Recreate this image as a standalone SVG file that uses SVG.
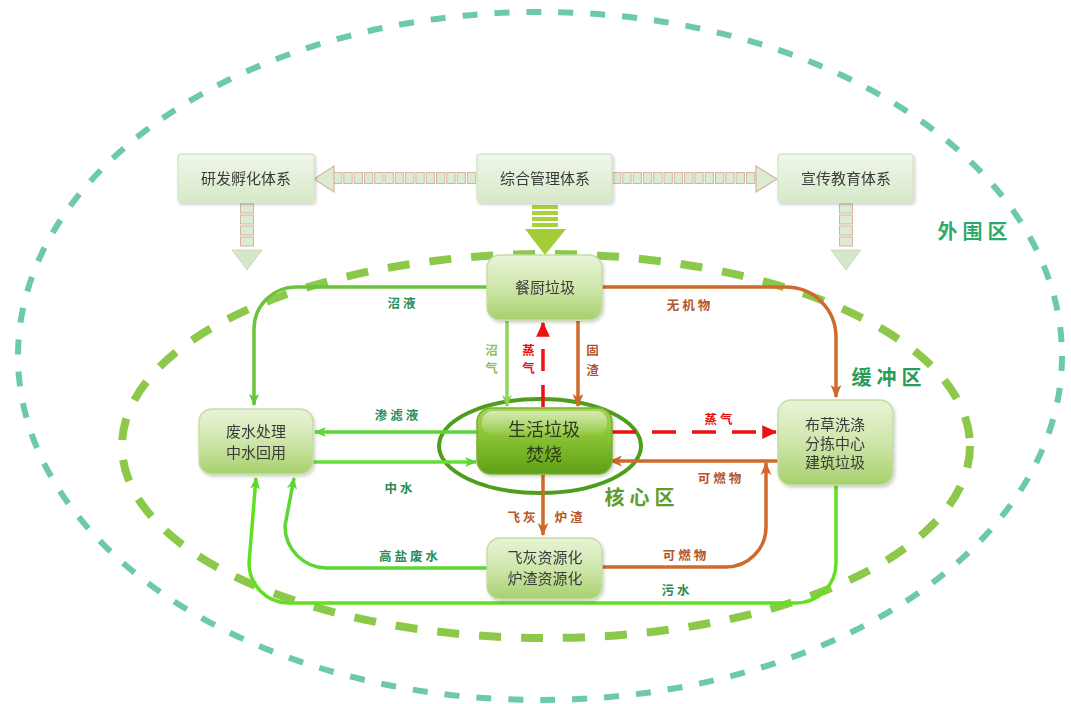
<svg xmlns="http://www.w3.org/2000/svg" width="1071" height="704" viewBox="0 0 1071 704">
<style>
text{font-family:"Noto Sans CJK SC","Liberation Sans",sans-serif;}
.nt{font-size:15px;fill:#3a3a3a;text-anchor:middle;}
.tt{font-size:15px;fill:#3a3a3a;text-anchor:middle;}
.el{font-size:12.5px;font-weight:bold;letter-spacing:3px;text-anchor:middle;}
.g{fill:#2a8c58;}
.o{fill:#b4562a;}
.r{fill:#e81010;}
.lg{fill:#8cc060;}
.zone{font-size:20px;font-weight:bold;letter-spacing:5px;text-anchor:middle;}
.c{fill:none;stroke-width:3.5;}
.top{fill:url(#gTop);stroke:#d6e6cc;stroke-width:1.5;}
.lite{fill:url(#gLite);stroke:#c4dea4;stroke-width:1.5;}
.sq{fill:#dcecd2;stroke:#d8b2a2;stroke-width:1;}
.core{font-size:18px;fill:#2e3a1e;text-anchor:middle;}
</style>
<defs>
<linearGradient id="gTop" x1="0" y1="0" x2="0" y2="1"><stop offset="0" stop-color="#f0f7ea"/><stop offset="1" stop-color="#d6e9c8"/></linearGradient>
<linearGradient id="gLite" x1="0" y1="0" x2="0" y2="1"><stop offset="0" stop-color="#e8f4d8"/><stop offset="0.5" stop-color="#cfe6ab"/><stop offset="1" stop-color="#a6d06c"/></linearGradient>
<linearGradient id="gCore" x1="0" y1="0" x2="0" y2="1"><stop offset="0" stop-color="#a8d458"/><stop offset="0.45" stop-color="#88c232"/><stop offset="1" stop-color="#5f9f18"/></linearGradient>
<linearGradient id="gGloss" x1="0" y1="0" x2="0" y2="1"><stop offset="0" stop-color="#ffffff" stop-opacity="0.55"/><stop offset="1" stop-color="#ffffff" stop-opacity="0.05"/></linearGradient>
<filter id="sh" x="-10%" y="-10%" width="130%" height="130%"><feDropShadow dx="1.5" dy="2" stdDeviation="1.5" flood-color="#000" flood-opacity="0.18"/></filter>
<pattern id="ph1" patternUnits="userSpaceOnUse" x="333" y="172" width="10.3" height="13"><rect x="0.5" y="0.5" width="8.3" height="11" class="sq"/></pattern>
<pattern id="ph2" patternUnits="userSpaceOnUse" x="612" y="172" width="10.3" height="13"><rect x="0.5" y="0.5" width="8.3" height="11" class="sq"/></pattern>
<marker id="aG" viewBox="0 0 12 12" refX="11" refY="6" markerWidth="12" markerHeight="12" markerUnits="userSpaceOnUse" orient="auto"><path d="M0,1 L12,6 L0,11 L3,6 z" fill="#66c23a"/></marker>
<marker id="aLG" viewBox="0 0 12 12" refX="11" refY="6" markerWidth="12" markerHeight="12" markerUnits="userSpaceOnUse" orient="auto"><path d="M0,1 L12,6 L0,11 L3,6 z" fill="#8fd25a"/></marker>
<marker id="aBG" viewBox="0 0 12 12" refX="11" refY="6" markerWidth="12" markerHeight="12" markerUnits="userSpaceOnUse" orient="auto"><path d="M0,1 L12,6 L0,11 L3,6 z" fill="#5cd632"/></marker>
<marker id="aO" viewBox="0 0 12 12" refX="11" refY="6" markerWidth="13" markerHeight="13" markerUnits="userSpaceOnUse" orient="auto"><path d="M0,1 L12,6 L0,11 L3,6 z" fill="#d0692c"/></marker>
<marker id="aR" viewBox="0 0 12 12" refX="11" refY="6" markerWidth="15" markerHeight="15" markerUnits="userSpaceOnUse" orient="auto"><path d="M0,0.5 L12,6 L0,11.5 z" fill="#ee1111"/></marker>
</defs>

<rect width="1071" height="704" fill="#ffffff"/>

<g id="zones">
<ellipse cx="540" cy="356" rx="522" ry="344" fill="none" stroke="#6ccaa6" stroke-width="6" stroke-dasharray="15 17"/>
<ellipse cx="546" cy="446" rx="424" ry="192" fill="none" stroke="#8cc94a" stroke-width="8" stroke-dasharray="22 20"/>
<ellipse cx="540" cy="446" rx="101" ry="47" fill="none" stroke="#4e9e1e" stroke-width="4"/>
<text x="975" y="239" class="zone" fill="#2caa6c">外围区</text>
<text x="889" y="385" class="zone" fill="#2a9c5a">缓冲区</text>
<text x="642" y="505" class="zone" fill="#5e9c2e">核心区</text>
</g>

<g id="system-arrows">
<rect x="333" y="172" width="144" height="13" fill="url(#ph1)"/>
<path d="M314,179 L334,166 L334,192 z" fill="#dcecd0" stroke="#d8b2a2" stroke-width="1.2"/>
<rect x="612" y="172" width="144" height="13" fill="url(#ph2)"/>
<path d="M777,179 L756,166 L756,192 z" fill="#dcecd0" stroke="#d8b2a2" stroke-width="1.2"/>
<rect x="240.5" y="204" width="13" height="9" class="sq"/>
<rect x="240.5" y="215" width="13" height="9" class="sq"/>
<rect x="240.5" y="226" width="13" height="9" class="sq"/>
<rect x="240.5" y="237" width="13" height="9" class="sq"/>
<path d="M232,250 L262,250 L247,270 z" fill="#d6e6ca" stroke="#c8dabc" stroke-width="1"/>
<rect x="839.5" y="204" width="13" height="9" class="sq"/>
<rect x="839.5" y="215" width="13" height="9" class="sq"/>
<rect x="839.5" y="226" width="13" height="9" class="sq"/>
<rect x="839.5" y="237" width="13" height="9" class="sq"/>
<path d="M831,250 L861,250 L846,270 z" fill="#d6e6ca" stroke="#c8dabc" stroke-width="1"/>
<rect x="532" y="205" width="26" height="4" fill="#a8d13c"/>
<rect x="532" y="211" width="26" height="4" fill="#a8d13c"/>
<rect x="532" y="217" width="26" height="4" fill="#a8d13c"/>
<rect x="532" y="223" width="26" height="4" fill="#a8d13c"/>
<path d="M525,229 L566,229 L545,255 z" fill="#a4cc36"/>
</g>

<g id="connectors">
<path class="c" d="M487,287 H296 A42,42 0 0 0 254,329 V405" stroke="#6cc43a" marker-end="url(#aG)"/>
<path class="c" d="M507,321 V406" stroke="#90d45a" marker-end="url(#aLG)"/>
<path class="c" d="M543,407 V323" stroke="#ee1111" stroke-dasharray="22 14" marker-end="url(#aR)"/>
<path class="c" d="M578,321 V406" stroke="#d0692c" marker-end="url(#aO)"/>
<path class="c" d="M602,287 H786 A50,50 0 0 1 836,337 V397" stroke="#d0692c" marker-end="url(#aO)"/>
<path class="c" d="M612,432 H776" stroke="#ee1111" stroke-dasharray="24 16" marker-end="url(#aR)"/>
<path class="c" d="M778,461 H610" stroke="#d0692c" marker-end="url(#aO)"/>
<path class="c" d="M602,567 H726 A40,40 0 0 0 766,527 V463" stroke="#d0692c" marker-end="url(#aO)"/>
<path class="c" d="M477,432 H315" stroke="#5cd632" marker-end="url(#aBG)"/>
<path class="c" d="M313,462 H476" stroke="#66de38" marker-end="url(#aBG)"/>
<path class="c" d="M543,475 V535" stroke="#d0692c" marker-end="url(#aO)"/>
<path class="c" d="M487,568 H326 A42,42 0 0 1 285,526 L294,478" stroke="#5cd632" marker-end="url(#aBG)"/>
<path class="c" d="M836,485 V563 A40,40 0 0 1 796,603 H288 A40,40 0 0 1 249,563 L256,478" stroke="#62e020" marker-end="url(#aBG)"/>
<text x="403" y="308" class="el g">沼液</text>
<text x="493" y="355" class="el lg">沼</text>
<text x="493" y="373" class="el lg">气</text>
<text x="530" y="355" class="el r">蒸</text>
<text x="530" y="373" class="el r">气</text>
<text x="594" y="355" class="el o">固</text>
<text x="594" y="375" class="el o">渣</text>
<text x="690" y="310" class="el o">无机物</text>
<text x="720" y="424" class="el r">蒸气</text>
<text x="721" y="483" class="el o">可燃物</text>
<text x="686" y="560" class="el o">可燃物</text>
<text x="398" y="420" class="el g">渗滤液</text>
<text x="400" y="493" class="el g">中水</text>
<text x="523" y="522" class="el o">飞灰</text>
<text x="570" y="522" class="el o">炉渣</text>
<text x="410" y="561" class="el g">高盐废水</text>
<text x="677" y="595" class="el g">污水</text>
</g>

<g id="n-yanfa" filter="url(#sh)">
<rect x="178" y="154" width="136" height="48" rx="3" class="top"/>
<text x="246" y="184" class="tt">研发孵化体系</text>
</g>
<g id="n-zonghe" filter="url(#sh)">
<rect x="477" y="154" width="135" height="48" rx="3" class="top"/>
<text x="545" y="184" class="tt">综合管理体系</text>
</g>
<g id="n-xuanchuan" filter="url(#sh)">
<rect x="778" y="154" width="135" height="48" rx="3" class="top"/>
<text x="846" y="184" class="tt">宣传教育体系</text>
</g>

<g id="n-canchu" filter="url(#sh)">
<rect x="487" y="255" width="115" height="65" rx="13" class="lite"/>
<text x="545" y="293" class="nt">餐厨垃圾</text>
</g>
<g id="n-feishui" filter="url(#sh)">
<rect x="199" y="409" width="114" height="65" rx="13" class="lite"/>
<text x="256" y="437" class="nt">废水处理</text>
<text x="256" y="458" class="nt">中水回用</text>
</g>
<g id="n-shenghuo" filter="url(#sh)">
<rect x="477" y="408" width="135" height="66" rx="14" fill="url(#gCore)" stroke="#78b230" stroke-width="1.5"/>
<rect x="482" y="411" width="125" height="24" rx="11" fill="url(#gGloss)"/>
<text x="544" y="436" class="core">生活垃圾</text>
<text x="544" y="461" class="core">焚烧</text>
</g>
<g id="n-bucao" filter="url(#sh)">
<rect x="778" y="400" width="115" height="85" rx="13" class="lite"/>
<text x="835" y="430" class="nt">布草洗涤</text>
<text x="835" y="449" class="nt">分拣中心</text>
<text x="835" y="468" class="nt">建筑垃圾</text>
</g>
<g id="n-feihui" filter="url(#sh)">
<rect x="487" y="538" width="115" height="61" rx="13" class="lite"/>
<text x="545" y="563" class="nt">飞灰资源化</text>
<text x="545" y="584" class="nt">炉渣资源化</text>
</g>
</svg>
